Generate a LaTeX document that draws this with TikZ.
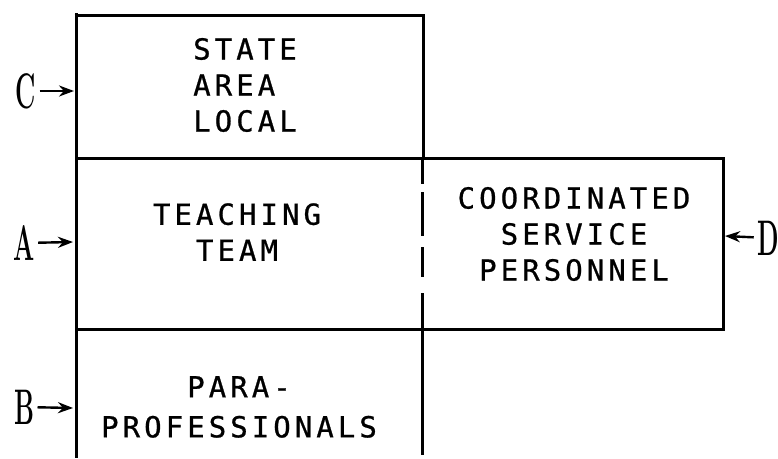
\documentclass[tikz,border=0pt]{standalone}
\usepackage{fontspec}
\newfontfamily\typefont[LetterSpace=14,FakeBold=0.8]{DejaVu Sans Mono}
\usetikzlibrary{arrows.meta}
\usetikzlibrary{positioning}

\begin{document}
\begin{tikzpicture}[x=1pt,y=-1pt,>={Stealth[length=15pt,width=11pt]},line width=3pt,
		box text/.style={font=\typefont\fontsize{29}{36}\selectfont,align=center,inner sep=0pt},
		side label/.style={font=\bfseries\fontsize{50}{50}\selectfont,inner sep=0pt},
		feed/.style={->,line width=2.4pt,shorten <=2pt}]
		\useasboundingbox (0,0) rectangle (778,458);
		
		% frame of the chart
		\draw (76,13) -- (76,458);
		\draw (74.5,15) -- (423,15) -- (423,158);
		\draw (76,158) -- (723,158) -- (723,329) -- (76,329);
		\draw[dash pattern=on 26pt off 8pt on 44pt off 11pt on 30pt off 16pt on 40pt] (422,158) -- (422,329);
		\draw (422,329) -- (422,455);
		
		% texts in the boxes
		\node[box text, align=left] (levels) at (245,85) {STATE\\AREA\\LOCAL};
		\node[box text] (team) at (237,232) {TEACHING\\TEAM};
		\node[box text] (service) at (574,234) {COORDINATED\\SERVICE\\PERSONNEL};
		\node[box text, font=\typefont\fontsize{29}{40}\selectfont] (para) at (239,407) {PARA-\\PROFESSIONALS};
		
		% side labels
		\node[side label] (C) at (26,91) {\scalebox{0.5}[1]{C}};
		\node[side label] (A) at (24,243) {\scalebox{0.5}[1]{A}};
		\node[side label] (B) at (24,407) {\scalebox{0.5}[1]{B}};
		\node[side label] (D) at (768,238) {\scalebox{0.5}[1]{D}};
		\coordinate (c in) at (74,91);
		\coordinate (a in) at (73,242);
		\coordinate (b in) at (73,408);
		\coordinate (d in) at (725,236);
		
		\draw[feed] (C) -- (c in);
		\draw[feed] (A) -- (a in);
		\draw[feed] (B) -- (b in);
		\draw[feed] (D) -- (d in);
\end{tikzpicture}
\end{document}
